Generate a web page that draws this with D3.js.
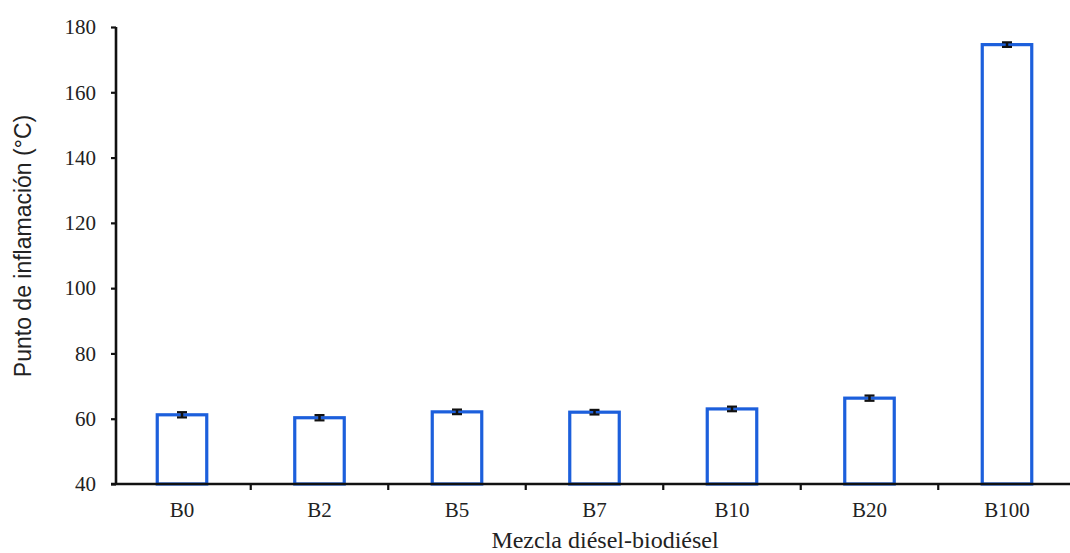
<!DOCTYPE html>
<html>
<head>
<meta charset="utf-8">
<script src="https://cdn.jsdelivr.net/npm/d3@7"></script>
<style>
  body { margin: 0; background: #fff; }
  text { font-family: "Liberation Serif", "DejaVu Serif", serif; fill: #222; }
</style>
</head>
<body>
<svg id="chart" width="1070" height="553"></svg>
<script>
// values
const categories = ["B0", "B2", "B5", "B7", "B10", "B20", "B100"];
const flashPoint = [61.2, 60.3, 62.1, 62.0, 63.0, 66.3, 174.6];
const errors = [0.8, 0.8, 0.7, 0.7, 0.7, 0.8, 0.7];
const yTicks = [40, 60, 80, 100, 120, 140, 160, 180];

const svg = d3.select("#chart");
const margin = { top: 27, right: -3, bottom: 69, left: 116 };
const width = 1070 - margin.left - margin.right;
const height = 553 - margin.top - margin.bottom;

const g = svg.append("g")
  .attr("transform", `translate(${margin.left},${margin.top})`);

const x = d3.scaleBand().domain(categories).range([0, width]).paddingInner(0.64).paddingOuter(0.3);
const y = d3.scaleLinear().domain([40, 180]).range([height, 0]);

const data = categories.map((c, i) => ({ cat: c, value: flashPoint[i], err: errors[i] }));

// bars
g.selectAll(".bar")
  .data(data)
  .join("rect")
  .attr("x", d => x(d.cat))
  .attr("y", d => y(d.value))
  .attr("width", x.bandwidth())
  .attr("height", d => y(40) - y(d.value))
  .attr("fill", "#fff")
  .attr("stroke", "#1c5fdc")
  .attr("stroke-width", 3.2);

// error bars
const eb = g.selectAll(".err").data(data).join("g");
eb.append("line")
  .attr("x1", d => x(d.cat) + x.bandwidth() / 2)
  .attr("x2", d => x(d.cat) + x.bandwidth() / 2)
  .attr("y1", d => y(d.value + d.err))
  .attr("y2", d => y(d.value - d.err))
  .attr("stroke", "#111")
  .attr("stroke-width", 2.5);
eb.selectAll(".cap")
  .data(d => [d.value + d.err, d.value - d.err].map(v => ({ cat: d.cat, v })))
  .join("line")
  .attr("x1", d => x(d.cat) + x.bandwidth() / 2 - 5)
  .attr("x2", d => x(d.cat) + x.bandwidth() / 2 + 5)
  .attr("y1", d => y(d.v))
  .attr("y2", d => y(d.v))
  .attr("stroke", "#111")
  .attr("stroke-width", 2.2);

// y axis
const yAxis = g.append("g")
  .call(d3.axisLeft(y).tickValues(yTicks).tickSize(5).tickPadding(15));
yAxis.select(".domain").attr("stroke", "#111").attr("stroke-width", 2.6)
  .attr("d", `M0,${y(180)}V${y(40)}`);
yAxis.selectAll(".tick line").attr("stroke", "#111").attr("stroke-width", 2.2);
yAxis.selectAll(".tick text").style("font-size", "21px").attr("fill", "#222");

// x axis: ticks sit between categories
const bounds = categories.slice(1).map(c => x(c) - x.step() * x.paddingInner() / 2);
const xAxisG = g.append("g").attr("transform", `translate(0,${height})`);
xAxisG.append("line")
  .attr("x1", -5).attr("x2", width)
  .attr("stroke", "#111").attr("stroke-width", 2.6);
xAxisG.selectAll(".xt").data(bounds).join("line")
  .attr("x1", d => d).attr("x2", d => d)
  .attr("y1", 0).attr("y2", 6)
  .attr("stroke", "#111").attr("stroke-width", 2.2);
xAxisG.selectAll(".xl").data(categories).join("text")
  .attr("x", d => x(d) + x.bandwidth() / 2)
  .attr("y", 33)
  .attr("text-anchor", "middle")
  .style("font-size", "21px")
  .text(d => d);

// axis titles
svg.append("text")
  .attr("x", 605)
  .attr("y", 548)
  .attr("text-anchor", "middle")
  .style("font-size", "24px")
  .text("Mezcla diésel-biodiésel");

svg.append("text")
  .attr("transform", "translate(31,246) rotate(-90)")
  .attr("text-anchor", "middle")
  .style("font-family", "'Liberation Sans', Arial, sans-serif")
  .style("font-size", "23px")
  .text("Punto de inflamación (°C)");
</script>
</body>
</html>
